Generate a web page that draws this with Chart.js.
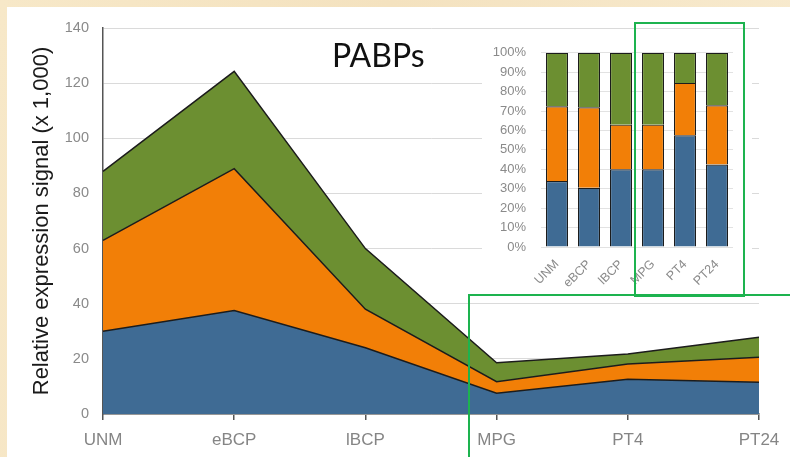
<!DOCTYPE html>
<html>
<head>
<meta charset="utf-8">
<script src="https://cdn.jsdelivr.net/npm/chart.js@4"></script>
<style>
  body { margin: 0; }
  #page {
    position: relative; width: 790px; height: 457px; overflow: hidden;
    background: linear-gradient(100deg, #f7e8c8 0%, #f4e2bf 45%, #f8ebd0 100%);
  }
  #panel { position: absolute; left: 7px; top: 7px; right: 0; bottom: 0; background: #fff; }
  #main { position: absolute; left: 0; top: 0; }
  #insetBox { position: absolute; left: 482px; top: 35px; width: 270px; height: 265px; background: #fff; }
  #inset { position: absolute; left: 0; top: -5px; }
  .box { position: absolute; border: 2px solid #1db34f; box-sizing: border-box; }
</style>
</head>
<body>
<div id="page">
  <div id="panel"></div>
  <canvas id="main" width="790" height="457"></canvas>
  <div id="insetBox"><canvas id="inset" width="270" height="271"></canvas></div>
  <div class="box" style="left:634px; top:22px; width:111px; height:275px;"></div>
  <div class="box" style="left:468px; top:294px; width:330px; height:180px;"></div>
</div>
<script>
const categories = ['UNM', 'eBCP', 'lBCP', 'MPG', 'PT4', 'PT24'];

// signal per group (x 1,000), stacked bottom to top
const blueSeries = [30, 37.5, 24, 7.5, 12.6, 11.5];
const orangeSeries = [33, 51.5, 14, 4.2, 5.5, 9.1];
const greenSeries = [25, 35.3, 22, 6.9, 3.7, 7.2];

// share of each group (%)
const bluePct = [34, 30.5, 40, 40, 57.5, 42.5];
const orangePct = [38.5, 41.5, 23, 23, 27, 30.5];
const greenPct = [27.5, 28, 37, 37, 15.5, 27];

const yTicks = [0, 20, 40, 60, 80, 100, 120, 140];

const BLUE = '#3f6b94';
const ORANGE = '#f27f07';
const GREEN = '#6c8f31';
const EDGE = '#1c1c1c';

const titlePlugin = {
  id: 'titleText',
  afterDraw(chart) {
    const c = chart.ctx;
    c.save();
    c.font = '32px Lato';
    c.fillStyle = '#111';
    c.textAlign = 'left';
    c.textBaseline = 'alphabetic';
    c.fillText('PABPs', 332, 67);
    c.restore();
  }
};

function area(label, data, color, fill) {
  return {
    label: label,
    data: data,
    backgroundColor: color,
    borderColor: EDGE,
    borderWidth: 1.5,
    pointRadius: 0,
    tension: 0,
    fill: fill
  };
}

new Chart(document.getElementById('main'), {
  type: 'line',
  data: {
    labels: categories,
    datasets: [
      area('blue', blueSeries, BLUE, 'origin'),
      area('orange', orangeSeries, ORANGE, '-1'),
      area('green', greenSeries, GREEN, '-1')
    ]
  },
  options: {
    responsive: false,
    animation: false,
    layout: { padding: { left: 0, top: 28, right: 31, bottom: 0 } },
    plugins: { legend: { display: false }, tooltip: { enabled: false } },
    scales: {
      x: {
        grid: { drawOnChartArea: false, drawTicks: true, tickLength: 6, color: '#555', lineWidth: 1.5 },
        border: { color: '#555', width: 1.5 },
        ticks: { color: '#858585', font: { family: 'Liberation Sans', size: 17 }, padding: 10, maxRotation: 0 },
        afterFit(scale) { scale.height = 43; }
      },
      y: {
        stacked: true,
        min: 0,
        max: 140,
        afterBuildTicks(scale) { scale.ticks = yTicks.map(v => ({ value: v })); },
        grid: { color: '#dadada', lineWidth: 1, drawTicks: false },
        border: { color: '#555', width: 1.5 },
        ticks: { color: '#8a8a8a', font: { family: 'Liberation Sans', size: 14.5 }, padding: 14 },
        title: {
          display: true,
          text: 'Relative expression signal (x 1,000)',
          color: '#1a1a1a',
          font: { family: 'Liberation Sans', size: 22 },
          padding: { top: 29, bottom: 0 }
        },
        afterFit(scale) { scale.width = 103; }
      }
    }
  },
  plugins: [titlePlugin]
});

function bar(label, data, color) {
  return {
    label: label,
    data: data,
    backgroundColor: color,
    borderColor: EDGE,
    borderWidth: 1.2,
    categoryPercentage: 1,
    barPercentage: 0.69
  };
}

new Chart(document.getElementById('inset'), {
  type: 'bar',
  data: {
    labels: categories,
    datasets: [
      bar('blue', bluePct, BLUE),
      bar('orange', orangePct, ORANGE),
      bar('green', greenPct, GREEN)
    ]
  },
  options: {
    responsive: false,
    animation: false,
    layout: { padding: { left: 0, top: 9, right: 19, bottom: 0 } },
    plugins: { legend: { display: false }, tooltip: { enabled: false } },
    scales: {
      x: {
        stacked: true,
        grid: { display: false },
        border: { display: false },
        ticks: { color: '#8a8a8a', font: { family: 'Liberation Sans', size: 12.5 }, minRotation: 45, maxRotation: 45, padding: 2 },
        afterFit(scale) { scale.height = 54; }
      },
      y: {
        stacked: true,
        min: 0,
        max: 100,
        grid: { color: '#e2e2e2', drawTicks: false },
        border: { display: false },
        ticks: {
          stepSize: 10,
          color: '#8a8a8a',
          font: { family: 'Liberation Sans', size: 13 },
          padding: 15,
          callback: v => v + '%'
        },
        afterFit(scale) { scale.width = 59; }
      }
    }
  }
});
</script>
</body>
</html>
